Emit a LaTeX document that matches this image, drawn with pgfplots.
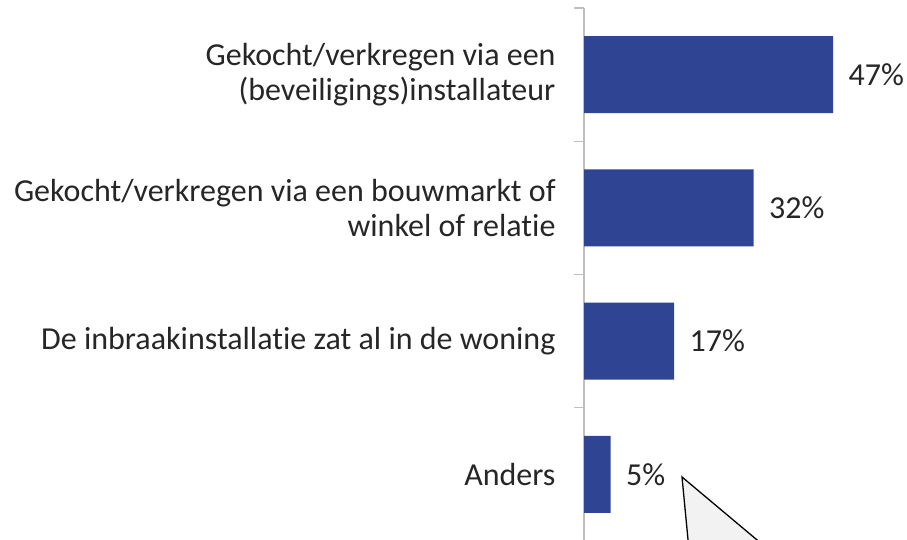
\documentclass[border=0pt]{standalone}
\usepackage{pgfplots}
\pgfplotsset{compat=1.18}
\usepackage{fontspec}
\setmainfont{Carlito}[Ligatures={NoCommon,NoContextual}]
\definecolor{barblue}{RGB}{47,69,147}
\definecolor{txt}{RGB}{38,38,38}
\definecolor{axgray}{RGB}{191,191,191}
\definecolor{callout}{RGB}{242,242,242}
\begin{document}
\begin{tikzpicture}[x=1pt,y=1pt]
\useasboundingbox (0,0) rectangle (907,540);
\clip (0,0) rectangle (907,540);
\begin{axis}[
  at={(584pt,-1pt)}, anchor=south west,
  scale only axis, width=318pt, height=533pt,
  xbar, bar width=77pt,
  xmin=0, xmax=60,
  ymin=-0.5, ymax=3.5, y dir=reverse,
  axis x line=none,
  axis y line*=left,
  y axis line style={draw=axgray, line width=1.2pt},
  ytick={0,1,2,3},
  yticklabels={{Gekocht/verkregen via een\\(beveiligings)installateur},
               {Gekocht/verkregen via een bouwmarkt of\\winkel of relatie},
               {De inbraakinstallatie zat al in de woning},
               {Anders}},
  yticklabel style={align=right, font=\fontsize{32}{35}\selectfont, text=txt, xshift=-25pt},
  major tick length=0pt,
  extra y ticks={-0.5,0.5,1.5,2.5,3.5},
  extra y tick labels={},
  extra y tick style={major tick length=10pt, tick align=outside, tick style={draw=axgray, line width=1.2pt}},
  /pgf/number format/assume math mode=true,
  nodes near coords={\pgfmathprintnumber{\pgfplotspointmeta}\%},
  nodes near coords style={anchor=west, font=\fontsize{32}{35}\selectfont, text=txt, xshift=12pt},
  clip=false,
]
\addplot[fill=barblue, draw=none] coordinates {(47,0) (32,1) (17,2) (5,3)};
\end{axis}
\filldraw[fill=callout, draw=black, line width=1.3pt] (682,63) -- (689,-10) -- (769,-10) -- cycle;
\end{tikzpicture}
\end{document}
